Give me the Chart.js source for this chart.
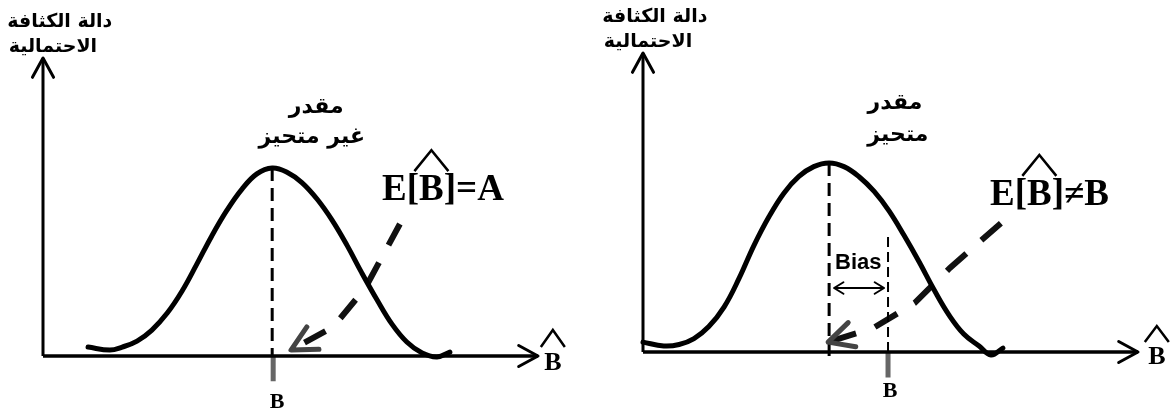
<!DOCTYPE html>
<html lang="ar">
<head>
<meta charset="utf-8">
<title>مقدر متحيز / غير متحيز</title>
<script src="https://cdn.jsdelivr.net/npm/chart.js"></script>
<style>
  html, body { margin: 0; padding: 0; background: #fff; }
  #wrap { position: relative; width: 1173px; height: 416px; overflow: hidden; }
  .panel { position: absolute; top: 0; height: 416px; }
  #left { left: 0; width: 586px; }
  #right { left: 586px; width: 587px; }
</style>
</head>
<body>
<div id="wrap">
  <div class="panel" id="left"><canvas id="leftChart" width="586" height="416"></canvas></div>
  <div class="panel" id="right"><canvas id="rightChart" width="587" height="416"></canvas></div>
</div>
<script>
// axis extent (same units on both panels)
const X_MAX = 10;
const Y_MAX = 10;

// left panel: unbiased estimator density
const leftCurveX = [0.91, 1.35, 1.60, 1.90, 2.20, 2.51, 2.81, 3.11, 3.41, 3.72, 4.02, 4.32, 4.63,
                    4.93, 5.23, 5.54, 5.84, 6.14, 6.44, 6.75, 7.05, 7.35, 7.66, 7.96, 8.22];
const leftCurveY = [0.30, 0.20, 0.30, 0.50, 0.87, 1.44, 2.18, 3.09, 4.03, 4.90, 5.60, 6.11, 6.31,
                    6.17, 5.82, 5.26, 4.56, 3.72, 2.79, 1.88, 1.07, 0.47, 0.10, -0.03, 0.13];
const leftMean = 4.63;   // E[B^]
const leftTrue = 4.65;   // B
const leftPointerX = [7.21, 6.51, 5.86, 5.01];
const leftPointerY = [4.43, 2.28, 0.97, 0.20];

// right panel: biased estimator density
const rightCurveX = [0.00, 0.42, 0.73, 1.03, 1.33, 1.64, 1.94, 2.24, 2.55, 2.85, 3.15, 3.45, 3.76,
                     4.06, 4.36, 4.67, 4.97, 5.27, 5.58, 5.88, 6.18, 6.48, 6.79, 7.03, 7.27];
const rightCurveY = [0.33, 0.20, 0.25, 0.45, 0.85, 1.51, 2.46, 3.56, 4.54, 5.32, 5.87, 6.20, 6.32,
                     6.20, 5.87, 5.37, 4.72, 3.91, 3.01, 2.08, 1.24, 0.60, 0.20, -0.10, 0.13];
const rightMean = 3.76;
const rightTrue = 4.95;
const rightPointerX = [7.23, 6.20, 5.49, 4.65, 3.74];
const rightPointerY = [4.31, 2.81, 1.64, 0.80, 0.33];
const biasLevel = 2.14;   // height of the <-> marker
const trueLineTop = 3.85; // top of the dashed line at B

const tickDepth = -0.85;

function pts(xs, ys) { return xs.map((x, i) => ({ x: x, y: ys[i] })); }
function seg(x0, y0, x1, y1) { return [{ x: x0, y: y0 }, { x: x1, y: y1 }]; }

function lineSet(data, extra) {
  return Object.assign({
    data: data, showLine: true, pointRadius: 0, borderColor: '#000',
    borderWidth: 3, fill: false, clip: false, tension: 0
  }, extra || {});
}

const axisHead = { len: 22, spread: 0.5, width: 3, color: '#000' };
const pointerHead = { len: 28, spread: 0.47, width: 5, color: '#444' };

// arrow heads drawn on the ends of flagged datasets
const arrowHeads = {
  id: 'arrowHeads',
  afterDatasetsDraw(chart) {
    const ctx = chart.ctx;
    chart.data.datasets.forEach((ds, i) => {
      if (!ds.head) return;
      const p = chart.getDatasetMeta(i).data;
      const h = ds.head;
      const draw = (tip, from) => {
        const a = Math.atan2(from.y - tip.y, from.x - tip.x);
        ctx.beginPath();
        ctx.moveTo(tip.x + h.len * Math.cos(a - h.spread), tip.y + h.len * Math.sin(a - h.spread));
        ctx.lineTo(tip.x, tip.y);
        ctx.lineTo(tip.x + h.len * Math.cos(a + h.spread), tip.y + h.len * Math.sin(a + h.spread));
        ctx.stroke();
      };
      ctx.save();
      ctx.setLineDash([]);
      ctx.lineWidth = h.width;
      ctx.strokeStyle = h.color;
      ctx.lineCap = 'round';
      ctx.lineJoin = 'round';
      draw(p[p.length - 1], p[p.length - 2]);
      if (ds.headBoth) draw(p[0], p[1]);
      ctx.restore();
    });
  }
};

// text labels, optionally split in parts with a hat over the middle part
const notes = {
  id: 'notes',
  afterDraw(chart, args, opts) {
    const ctx = chart.ctx;
    const sx = chart.scales.x, sy = chart.scales.y;
    (opts.items || []).forEach(n => {
      const px = sx.getPixelForValue(n.x);
      const py = sy.getPixelForValue(n.y);
      ctx.save();
      ctx.font = n.font;
      ctx.fillStyle = n.color || '#000';
      if (!n.parts) {
        ctx.textAlign = 'center';
        ctx.textBaseline = 'middle';
        ctx.fillText(n.text, px, py);
        ctx.restore();
        return;
      }
      ctx.textAlign = 'left';
      ctx.textBaseline = 'alphabetic';
      const w = n.parts.map(t => ctx.measureText(t).width);
      const total = w[0] + w[1] + w[2];
      let x0 = n.anchor === 'center' ? px - total / 2 : px;
      ctx.fillText(n.parts[0], x0, py);
      ctx.fillText(n.parts[1], x0 + w[0], py);
      ctx.fillText(n.parts[2], x0 + w[0] + w[1], py);
      const cx = x0 + w[0] + w[1] / 2;
      ctx.strokeStyle = '#000';
      ctx.lineWidth = 2.5;
      ctx.lineJoin = 'miter';
      ctx.beginPath();
      ctx.moveTo(cx - n.hat.half, py - n.hat.foot);
      ctx.lineTo(cx, py - n.hat.rise);
      ctx.lineTo(cx + n.hat.half, py - n.hat.foot);
      ctx.stroke();
      ctx.restore();
    });
  }
};

const arFont = 'bold 22px "DejaVu Sans"';
const arSmall = 'bold 19px "DejaVu Sans"';
const eqFont = 'bold 37px "Liberation Serif"';
const bFont = 'bold 26px "Liberation Serif"';
const tickFont = 'bold 22px "Liberation Serif"';

function makePanel(id, padding, datasets, items) {
  return new Chart(document.getElementById(id), {
    type: 'scatter',
    data: { datasets: datasets },
    options: {
      responsive: false,
      animation: false,
      devicePixelRatio: 1,
      layout: { padding: padding },
      scales: {
        x: { type: 'linear', min: 0, max: X_MAX, display: false },
        y: { type: 'linear', min: 0, max: Y_MAX, display: false }
      },
      plugins: {
        legend: { display: false },
        tooltip: { enabled: false },
        notes: { items: items }
      }
    },
    plugins: [arrowHeads, notes]
  });
}

function axes() {
  return [
    lineSet(seg(0, 0, X_MAX, 0), { borderWidth: 3.5, head: axisHead }),
    lineSet(seg(0, 0, 0, Y_MAX), { borderWidth: 3, head: axisHead })
  ];
}

function curve(xs, ys) {
  return lineSet(pts(xs, ys), { borderWidth: 5, tension: 0.4, borderCapStyle: 'round', borderJoinStyle: 'round' });
}

const leftPeak = Math.max(...leftCurveY);
const rightPeak = Math.max(...rightCurveY);

makePanel('leftChart', { left: 43, right: 48, top: 58, bottom: 60 }, [
  ...axes(),
  curve(leftCurveX, leftCurveY),
  lineSet(seg(leftMean, leftPeak, leftMean, 0), { borderWidth: 3, borderDash: [13, 7] }),
  lineSet(seg(leftTrue, 0, leftTrue, tickDepth), { borderWidth: 5, borderColor: '#666' }),
  lineSet(pts(leftPointerX, leftPointerY), { borderWidth: 6, borderColor: '#111', borderDash: [24, 20], head: pointerHead })
], [
  { text: 'دالة الكثافة', x: 0.34, y: 11.2, font: arSmall },
  { text: 'الاحتمالية', x: 0.20, y: 10.37, font: arSmall },
  { text: 'مقدر', x: 5.52, y: 8.36, font: arFont },
  { text: 'غير متحيز', x: 5.43, y: 7.35, font: arFont },
  { parts: ['E[', 'B', ']=A'], x: 6.85, y: 5.23, font: eqFont, hat: { rise: 50, foot: 29, half: 17 } },
  { parts: ['', 'B', ''], anchor: 'center', x: 10.3, y: -0.47, font: bFont, hat: { rise: 40, foot: 23, half: 12 } },
  { text: 'B', x: leftTrue + 0.08, y: -1.55, font: tickFont }
]);

makePanel('rightChart', { left: 57, right: 35, top: 53, bottom: 64 }, [
  ...axes(),
  curve(rightCurveX, rightCurveY),
  lineSet(seg(rightMean, rightPeak, rightMean, -0.33), { borderWidth: 3, borderDash: [13, 7] }),
  lineSet(seg(rightTrue, trueLineTop, rightTrue, 0), { borderWidth: 2, borderDash: [10, 5] }),
  lineSet(seg(rightTrue, 0, rightTrue, tickDepth), { borderWidth: 5, borderColor: '#666' }),
  lineSet(seg(rightMean + 0.1, biasLevel, rightTrue - 0.08, biasLevel), { borderWidth: 2, head: { len: 11, spread: 0.55, width: 2, color: '#000' }, headBoth: true }),
  lineSet(pts(rightPointerX, rightPointerY), { borderWidth: 6, borderColor: '#111', borderDash: [26, 20], head: pointerHead })
], [
  { text: 'دالة الكثافة', x: 0.24, y: 11.2, font: arSmall },
  { text: 'الاحتمالية', x: 0.10, y: 10.37, font: arSmall },
  { text: 'مقدر', x: 5.09, y: 8.33, font: arFont },
  { text: 'متحيز', x: 5.15, y: 7.26, font: arFont },
  { text: 'Bias', x: 4.35, y: 2.98, font: 'bold 22px "Liberation Sans"' },
  { parts: ['E[', 'B', ']≠B'], x: 7.01, y: 4.92, font: eqFont, hat: { rise: 50, foot: 29, half: 17 } },
  { parts: ['', 'B', ''], anchor: 'center', x: 10.38, y: -0.4, font: bFont, hat: { rise: 38, foot: 22, half: 12 } },
  { text: 'B', x: rightTrue + 0.04, y: -1.3, font: tickFont }
]);
</script>
</body>
</html>
